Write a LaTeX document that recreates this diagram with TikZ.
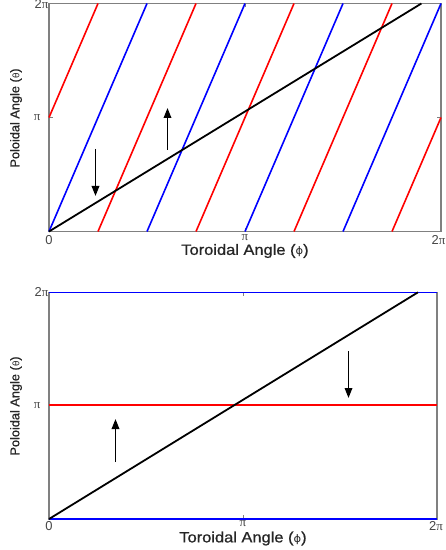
\documentclass[tikz,border=0pt]{standalone}
\usepackage{fontspec}
\setmainfont{Liberation Sans}
\newfontfamily\labfont[FakeBold=0.8]{Liberation Sans}
\newfontfamily\symfont{DejaVu Sans}
\newfontfamily\pifont{Liberation Serif}
\usetikzlibrary{arrows.meta}
\definecolor{framegray}{RGB}{128,128,128}
\definecolor{tickgray}{RGB}{70,70,70}
\definecolor{pred}{RGB}{255,0,0}
\definecolor{pblue}{RGB}{0,0,255}
\tikzset{
  frame/.style={draw=framegray, line width=1.3bp},
  redline/.style={draw=pred, line width=1.6bp},
  blueline/.style={draw=pblue, line width=1.6bp},
  blackline/.style={draw=black, line width=1.8bp},
  fieldarrow/.style={draw=black, line width=1.7bp, -{Triangle[length=10bp,width=7.5bp]}},
  ticklabel/.style={font=\fontsize{13}{13}\selectfont, text=tickgray, inner sep=0pt},
  xlab/.style={font=\labfont\fontsize{15}{16}\selectfont, inner sep=0pt, text=black!85},
  ylab/.style={font=\labfont\fontsize{12.8}{13}\selectfont, inner sep=0pt, rotate=90, text=black!85},
  tickmark/.style={draw=framegray, line width=1bp}
}
\newcommand{\pisym}{{\pifont π}}
\newcommand{\phisym}{{\symfont\fontsize{10.5}{10}\selectfont ϕ}}
\newcommand{\thetasym}{{\symfont\fontsize{9}{9}\selectfont θ}}
\newcommand{\xlabtext}{\scalebox{1.1}[1]{Toroidal Angle (\phisym)}}
\begin{document}
\begin{tikzpicture}[x=1bp, y=-1bp]
\useasboundingbox (0,0) rectangle (446,550);
\fill[white] (0,0) rectangle (446,550);

% ---------------- top plot ----------------
\begin{scope}[shift={(49bp,-231.5bp)}, x=392bp, y=228bp]
  \draw[frame] (0,0) rectangle (1,1);
  \draw[tickmark] (0.5,0) -- ++(0,4bp);
  \draw[tickmark] (0.5,1) -- ++(0,-4bp);
  \draw[tickmark] (0,0.5) -- ++(4bp,0);
  \draw[tickmark] (1,0.5) -- ++(-4bp,0);
  \foreach \k in {0,1,2,3}
    \draw[blueline] ({\k/4},0) -- ({(\k+1)/4},1);
  \draw[redline] (0,0.5) -- (0.125,1);
  \foreach \k in {0,1,2}
    \draw[redline] ({\k/4+0.125},0) -- ({\k/4+0.375},1);
  \draw[redline] (0.875,0) -- (1,0.5);
  \draw[blackline] (0,0) -- (0.95,1);
\end{scope}
\coordinate (ta1s) at (95.5,149);
\coordinate (ta1e) at (95.5,196);
\coordinate (ta2s) at (167.5,150);
\coordinate (ta2e) at (167.5,108);
\draw[fieldarrow] (ta1s) -- (ta1e);
\draw[fieldarrow] (ta2s) -- (ta2e);

\node[ticklabel, anchor=east] (t2pi) at (48.5,4.5) {2\pisym};
\node[ticklabel, anchor=east] (tpi) at (40.5,118) {\pisym};
\node[ticklabel] (tx0) at (49,240) {0};
\node[ticklabel] (txpi) at (245,237.5) {\pisym};
\node[ticklabel, anchor=east] (tx2pi) at (445.5,240) {2\pisym};
\node[xlab] (txl) at (245,251) {\xlabtext};
\node[ylab] (tyl) at (16,118) {Poloidal Angle (\thetasym)};

% ---------------- bottom plot ----------------
\begin{scope}[shift={(49bp,-519bp)}, x=388bp, y=226.7bp]
  \draw[frame] (0,0) rectangle (1,1);
  \draw[tickmark] (0.5,0) -- ++(0,4bp);
  \draw[tickmark] (0.5,1) -- ++(0,-4bp);
  \draw[blueline] (0,0) -- (1,0);
  \draw[blueline] (0,1) -- (1,1);
  \draw[redline] (0,0.503) -- (1,0.503);
  \draw[blackline] (0,0) -- (0.951,1);
\end{scope}
\coordinate (ba1s) at (115.5,462);
\coordinate (ba1e) at (115.5,419);
\coordinate (ba2s) at (348.5,351);
\coordinate (ba2e) at (348.5,398);
\draw[fieldarrow] (ba1s) -- (ba1e);
\draw[fieldarrow] (ba2s) -- (ba2e);

\node[ticklabel, anchor=east] (b2pi) at (48.5,292.5) {2\pisym};
\node[ticklabel, anchor=east] (bpi) at (40.5,406) {\pisym};
\node[ticklabel] (bx0) at (49,526) {0};
\node[ticklabel] (bxpi) at (243,523.5) {\pisym};
\node[ticklabel] (bx2pi) at (436,526) {2\pisym};
\node[xlab] (bxl) at (243,538.5) {\xlabtext};
\node[ylab] (byl) at (16,406) {Poloidal Angle (\thetasym)};
\end{tikzpicture}
\end{document}
